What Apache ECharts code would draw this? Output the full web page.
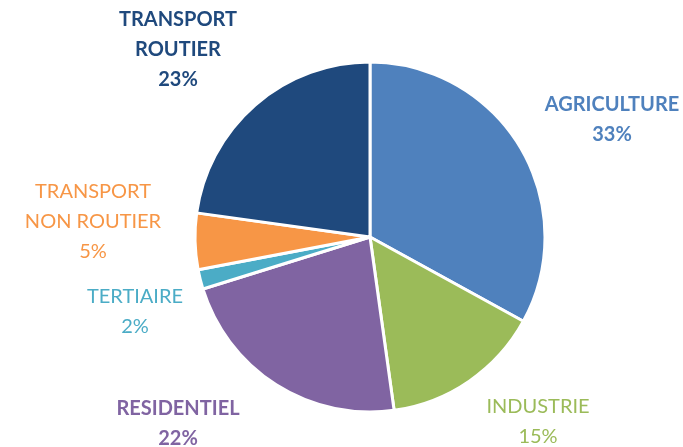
<!DOCTYPE html>
<html>
<head>
<meta charset="utf-8">
<script src="https://cdn.jsdelivr.net/npm/echarts@6/dist/echarts.min.js"></script>
<style>
  html, body { margin: 0; padding: 0; background: #fff; }
  #main { width: 683px; height: 447px; }
</style>
</head>
<body>
<div id="main"></div>
<script>
// secteurs (sens horaire depuis le haut)
var sectors = ['AGRICULTURE', 'INDUSTRIE', 'RESIDENTIEL', 'TERTIAIRE', 'TRANSPORT\nNON ROUTIER', 'TRANSPORT\nROUTIER'];
var shares = [33.0, 14.8, 22.4, 1.8, 5.2, 22.8];
var colors = ['#4F81BD', '#9BBB59', '#8064A2', '#4BACC6', '#F79646', '#1F497D'];
var boldLabel = [true, false, true, false, false, true];

// position des etiquettes (centre du bloc de texte)
var labelPos = [[612, 120], [538, 422], [178, 424], [135, 312], [93, 222], [178, 50]];

var myChart = echarts.init(document.getElementById('main'));

var data = [];
for (var i = 0; i < sectors.length; i++) {
    data.push({
        name: sectors[i],
        value: shares[i],
        itemStyle: { color: colors[i] },
        label: {
            color: colors[i],
            fontWeight: boldLabel[i] ? 'bold' : 'normal'
        }
    });
}

var option = {
    animation: false,
    series: [
        {
            type: 'pie',
            center: [370, 237],
            radius: [0, 175],
            startAngle: 90,
            clockwise: true,
            itemStyle: { borderColor: '#fff', borderWidth: 3 },
            label: {
                show: true,
                position: 'outside',
                overflow: 'none',
                fontFamily: 'Lato',
                fontSize: 20,
                lineHeight: 30,
                align: 'center',
                formatter: function (p) {
                    return p.name + '\n' + Math.round(p.percent) + '%';
                }
            },
            labelLine: { show: false },
            labelLayout: function (params) {
                var pos = labelPos[params.dataIndex];
                return { x: pos[0], y: pos[1], align: 'center', verticalAlign: 'middle' };
            },
            emphasis: { disabled: true },
            data: data
        }
    ]
};

myChart.setOption(option);
</script>
</body>
</html>
